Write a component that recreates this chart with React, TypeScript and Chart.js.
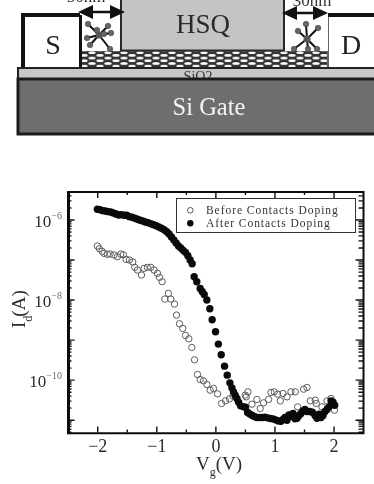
import React, { useEffect, useRef } from "react";
import { Chart, registerables } from "chart.js";

Chart.register(...registerables);

const beforeVg = [-2.006,-1.972,-1.927,-1.893,-1.837,-1.792,-1.724,-1.667,-1.611,-1.566,-1.52,-1.464,-1.407,-1.373,-1.328,-1.26,-1.215,-1.159,-1.102,-1.046,-0.989,-0.955,-0.91,-0.865,-0.803,-0.763,-0.701,-0.667,-0.616,-0.56,-0.515,-0.458,-0.407,-0.362,-0.311,-0.266,-0.21,-0.153,-0.097,-0.04,0.028,0.096,0.163,0.231,0.288,0.497,0.514,0.542,0.61,0.694,0.751,0.807,0.892,0.932,0.988,1.045,1.09,1.135,1.203,1.271,1.344,1.384,1.485,1.542,1.598,1.683,1.7,1.796,1.881,1.949,2.006];
const beforeLogId = [-6.65,-6.717,-6.783,-6.833,-6.858,-6.85,-6.875,-6.917,-6.85,-6.867,-6.983,-7,-7.05,-7.183,-7.25,-7.375,-7.208,-7.183,-7.183,-7.25,-7.333,-7.433,-7.542,-7.975,-7.833,-7.975,-8.1,-8.375,-8.592,-8.708,-8.883,-8.967,-9.183,-9.492,-9.858,-9.983,-10.017,-10.108,-10.25,-10.208,-10.342,-10.583,-10.517,-10.467,-10.4,-10.375,-10.417,-10.292,-10.6,-10.483,-10.708,-10.567,-10.483,-10.308,-10.292,-10.35,-10.517,-10.333,-10.417,-10.292,-10.292,-10.667,-10.225,-10.183,-10.517,-10.5,-10.583,-10.667,-10.517,-10.458,-10.75];
const afterVg = [-2.006,-1.961,-1.916,-1.871,-1.825,-1.78,-1.735,-1.69,-1.645,-1.6,-1.554,-1.509,-1.464,-1.419,-1.373,-1.328,-1.283,-1.238,-1.193,-1.147,-1.102,-1.057,-1.012,-0.967,-0.921,-0.876,-0.831,-0.792,-0.752,-0.712,-0.673,-0.633,-0.594,-0.554,-0.515,-0.475,-0.436,-0.402,-0.368,-0.323,-0.266,-0.232,-0.198,-0.153,-0.102,-0.063,-0.006,0.042,0.09,0.146,0.192,0.237,0.271,0.299,0.327,0.356,0.384,0.418,0.469,0.5,0.536,0.57,0.61,0.649,0.694,0.74,0.785,0.83,0.875,0.92,0.966,1.011,1.056,1.101,1.135,1.169,1.203,1.237,1.271,1.305,1.339,1.373,1.407,1.44,1.474,1.508,1.542,1.587,1.632,1.678,1.712,1.745,1.779,1.813,1.847,1.881,1.915,1.949,1.983,2.01];
const afterLogId = [-5.733,-5.742,-5.767,-5.775,-5.792,-5.8,-5.825,-5.85,-5.875,-5.867,-5.883,-5.883,-5.917,-5.933,-5.958,-5.983,-6.008,-6.025,-6.05,-6.067,-6.092,-6.117,-6.142,-6.175,-6.208,-6.242,-6.292,-6.35,-6.425,-6.5,-6.575,-6.65,-6.7,-6.758,-6.808,-6.892,-7,-7.092,-7.417,-7.542,-7.708,-7.783,-7.858,-8,-8.217,-8.492,-8.792,-9.1,-9.367,-9.65,-9.875,-10.067,-10.192,-10.292,-10.375,-10.458,-10.55,-10.642,-10.667,-10.675,-10.808,-10.842,-10.875,-10.908,-10.933,-10.933,-10.933,-10.925,-10.942,-10.958,-10.967,-10.992,-11.017,-11.025,-10.983,-10.933,-11,-10.867,-10.9,-10.833,-10.967,-10.95,-10.883,-10.833,-10.767,-10.733,-10.783,-10.783,-10.8,-10.883,-10.95,-10.85,-10.933,-10.883,-10.783,-10.733,-10.667,-10.517,-10.55,-10.625];

const seriesNames = ["Before Contacts Doping", "After Contacts Doping"];
const xTickValues = [-2, -1, 0, 1, 2];
const xMinorValues = [-1.5, -0.5, 0.5, 1.5];
const yLabelExponents = [-6, -8, -10];
const yDecadeExponents = [-6, -7, -8, -9, -10, -11];
const yMinorMantissas = [2, 3, 4, 5, 6, 7, 8, 9];

const SERIF = '"Liberation Serif", serif';
const INK = "#2c2c2c";

const overlay = {
  id: "overlay",
  afterDraw(chart: any) {
    const { ctx, chartArea: a, scales } = chart;
    const sx = scales.x;
    const sy = scales.y;
    ctx.save();

    ctx.strokeStyle = "#111";
    ctx.lineWidth = 1.4;
    const hTick = (v: number, len: number) => {
      const x = sx.getPixelForValue(v);
      ctx.beginPath();
      ctx.moveTo(x, a.top);
      ctx.lineTo(x, a.top + len);
      ctx.moveTo(x, a.bottom);
      ctx.lineTo(x, a.bottom - len);
      ctx.stroke();
    };
    xTickValues.forEach((v) => hTick(v, 6));
    xMinorValues.forEach((v) => hTick(v, 3));
    const vTick = (v: number, len: number) => {
      const y = sy.getPixelForValue(v);
      if (y < a.top || y > a.bottom) return;
      ctx.beginPath();
      ctx.moveTo(a.left, y);
      ctx.lineTo(a.left + len, y);
      ctx.moveTo(a.right, y);
      ctx.lineTo(a.right - len, y);
      ctx.stroke();
    };
    [-12, ...yDecadeExponents, -5].forEach((e) => {
      yMinorMantissas.forEach((m) => vTick(m * 10 ** e, 4.5));
    });
    yDecadeExponents.forEach((e) => vTick(10 ** e, 7.5));

    ctx.strokeStyle = "#0c0c0c";
    ctx.lineWidth = 3;
    ctx.beginPath();
    ctx.moveTo(a.left + 1.5, a.top);
    ctx.lineTo(a.left + 1.5, a.bottom + 1.5);
    ctx.stroke();
    ctx.lineWidth = 2;
    ctx.beginPath();
    ctx.moveTo(a.left, a.top);
    ctx.lineTo(a.right + 0.5, a.top);
    ctx.lineTo(a.right + 0.5, a.bottom + 0.7);
    ctx.lineTo(a.left, a.bottom + 0.7);
    ctx.stroke();

    ctx.textBaseline = "alphabetic";
    ctx.textAlign = "left";
    yLabelExponents.forEach((e) => {
      const y = sy.getPixelForValue(10 ** e);
      const sup = "\u2212" + Math.abs(e);
      ctx.font = `10px ${SERIF}`;
      const supW = ctx.measureText(sup).width;
      ctx.font = `17px ${SERIF}`;
      const w10 = ctx.measureText("10").width;
      const x0 = 62 - supW - w10;
      ctx.fillStyle = INK;
      ctx.fillText("10", x0, y + 7);
      ctx.font = `10px ${SERIF}`;
      ctx.fillStyle = "#6a6a6a";
      ctx.fillText(sup, x0 + w10, y - 1);
    });

    ctx.fillStyle = INK;
    ctx.font = `19px ${SERIF}`;
    const xw1 = ctx.measureText("V").width;
    ctx.fillText("V", 196, 470);
    ctx.font = `12px ${SERIF}`;
    ctx.fillText("g", 196 + xw1, 476);
    ctx.font = `19px ${SERIF}`;
    ctx.fillText("(V)", 196 + xw1 + 6, 470);

    ctx.save();
    ctx.translate(25, 328);
    ctx.rotate(-Math.PI / 2);
    ctx.font = `19px ${SERIF}`;
    const yw1 = ctx.measureText("I").width;
    ctx.fillText("I", 0, 0);
    ctx.font = `12px ${SERIF}`;
    ctx.fillText("d", yw1, 7);
    ctx.font = `19px ${SERIF}`;
    ctx.fillText("(A)", yw1 + 5, 0);
    ctx.restore();

    ctx.fillStyle = "#fff";
    ctx.strokeStyle = "#333";
    ctx.lineWidth = 1;
    ctx.fillRect(176.5, 198.5, 179, 34);
    ctx.strokeRect(176.5, 198.5, 179, 34);
    ctx.strokeStyle = "#555";
    ctx.lineWidth = 1;
    ctx.beginPath();
    ctx.arc(190.3, 210.3, 2.8, 0, Math.PI * 2);
    ctx.stroke();
    ctx.fillStyle = "#0c0c0c";
    ctx.beginPath();
    ctx.arc(190.3, 223.3, 3.2, 0, Math.PI * 2);
    ctx.fill();
    ctx.fillStyle = "#333";
    ctx.font = `11.5px ${SERIF}`;
    (ctx as any).letterSpacing = "0.95px";
    ctx.fillText(seriesNames[0], 206, 214);
    ctx.fillText(seriesNames[1], 206, 227);
    ctx.restore();
  },
};

const ballsLeft = [[88, 24], [87, 38], [108, 26], [111, 33], [90, 45], [110, 49], [97, 30], [104, 34]];
const ballsRight = [[306, 24], [318, 28], [294, 49], [308, 49], [317, 49], [298, 31]];

function Schematic() {
  return (
    <svg width={374} height={140} style={{ position: "absolute", left: 0, top: 0, filter: "blur(0.4px)" }} fontFamily={SERIF}>
      <defs>
        <pattern id="cnt" width="16" height="5.4" patternUnits="userSpaceOnUse">
          <rect width="16" height="5.4" fill="#333" />
          <ellipse cx="4" cy="1.35" rx="3.7" ry="1.35" fill="#fafafa" />
          <ellipse cx="12" cy="4" rx="3.7" ry="1.35" fill="#fafafa" />
        </pattern>
      </defs>
      <rect x={18} y={68} width={358} height={11} fill="#c8c8c8" stroke="#222" strokeWidth={2} />
      <text x={198} y={81} textAnchor="middle" fontSize={14} fill="#333">SiO2</text>
      <rect x={18} y={79} width={358} height={55} fill="#6e6e6e" stroke="#1c1c1c" strokeWidth={3} />
      <text x={209} y={115} textAnchor="middle" fontSize={24.5} fill="#f4f4f4">Si Gate</text>

      <rect x={23} y={15} width={58} height={52} fill="#fff" />
      <path d="M23 67V15H80" fill="none" stroke="#111" strokeWidth={4} />
      <path d="M80.5 15V67" stroke="#111" strokeWidth={3} />
      <text x={53} y={54} textAnchor="middle" fontSize={28} fill="#222">S</text>

      <rect x={328} y={15} width={46} height={52} fill="#fff" />
      <path d="M328 15H374" stroke="#111" strokeWidth={4} />
      <path d="M328 15V67" stroke="#333" strokeWidth={1.5} />
      <text x={351} y={54} textAnchor="middle" fontSize={28} fill="#222">D</text>

      <rect x={82} y={51} width={245} height={16} fill="url(#cnt)" />
      <rect x={82} y={15} width={39} height={36} fill="#fff" />
      <rect x={284} y={15} width={44} height={36} fill="#fff" />

      <rect x={121} y={-3} width={163} height={53.5} fill="#c4c4c4" stroke="#2a2a2a" strokeWidth={2} />
      <text x={203} y={33} textAnchor="middle" fontSize={27} fill="#2a2a2a">HSQ</text>

      <g stroke="#111" strokeWidth={2}>
        <path d="M99 35L88 24M99 35L87 38M99 35L108 26M99 35L111 33M99 35L90 45M99 35L110 49" />
        <path d="M307 39L306 24M307 39L318 28M307 39L294 49M307 39L308 49M307 39L317 49M307 39L298 31" />
      </g>
      {[...ballsLeft, ...ballsRight].map(([x, y], i) => (
        <circle key={i} cx={x} cy={y} r={2.8} fill="#666" stroke="#333" strokeWidth={0.5} />
      ))}
      <circle cx={99} cy={35} r={3.5} fill="#555" />
      <circle cx={307} cy={39} r={3.5} fill="#555" />

      <g fill="#111">
        <path d="M78 12L93 5V10.8H110V5L125 12L110 19V13.2H93V19Z" />
        <path d="M282 13L297 6V11.8H313V6L328 13L313 20V14.2H297V20Z" />
      </g>
      <text x={86} y={2} textAnchor="middle" fontSize={17} fill="#333">50nm</text>
      <text x={312} y={6} textAnchor="middle" fontSize={17} fill="#333">30nm</text>
    </svg>
  );
}

export default function App() {
  const ref = useRef<HTMLCanvasElement>(null);
  useEffect(() => {
    const chart = new Chart(ref.current!, {
      type: "scatter",
      data: {
        datasets: [
          {
            label: seriesNames[0],
            data: beforeVg.map((x, i) => ({ x, y: 10 ** beforeLogId[i] })),
            pointStyle: "circle",
            pointRadius: 3.2,
            pointBorderWidth: 1,
            pointBorderColor: "#5c5c5c",
            pointBackgroundColor: "rgba(255,255,255,0)",
            showLine: false,
            order: 2,
          },
          {
            label: seriesNames[1],
            data: afterVg.map((x, i) => ({ x, y: 10 ** afterLogId[i] })),
            pointStyle: "circle",
            pointRadius: 3.7,
            pointBorderWidth: 0,
            pointBackgroundColor: "#0a0a0a",
            showLine: false,
            order: 1,
          },
        ],
      },
      options: {
        animation: false,
        responsive: false,
        layout: { padding: { left: 67, right: 11, top: 192, bottom: 0 } },
        plugins: { legend: { display: false }, tooltip: { enabled: false } },
        scales: {
          x: {
            type: "linear",
            min: -2.52,
            max: 2.49,
            grid: { display: false, drawTicks: false },
            border: { display: false },
            afterFit: (s: any) => { s.height = 51.4; },
            afterBuildTicks: (s: any) => { s.ticks = xTickValues.map((value) => ({ value })); },
            ticks: {
              padding: 4,
              maxRotation: 0,
              font: { family: SERIF, size: 18 },
              color: INK,
              callback: (v: any) => (v < 0 ? "\u2212" + Math.abs(v) : String(v)),
            },
          },
          y: {
            type: "logarithmic",
            min: 4.9e-12,
            max: 5.0e-6,
            grid: { display: false, drawTicks: false },
            border: { display: false },
            ticks: { display: false },
            afterFit: (s: any) => { s.width = 0; },
          },
        },
      },
      plugins: [overlay],
    } as any);
    return () => chart.destroy();
  }, []);
  return (
    <div style={{ position: "absolute", left: 0, top: 0, width: 374, height: 484, overflow: "hidden", background: "#fff" }}>
      <canvas ref={ref} width={374} height={484} style={{ position: "absolute", left: 0, top: 0, filter: "blur(0.3px)" }} />
      <Schematic />
    </div>
  );
}
